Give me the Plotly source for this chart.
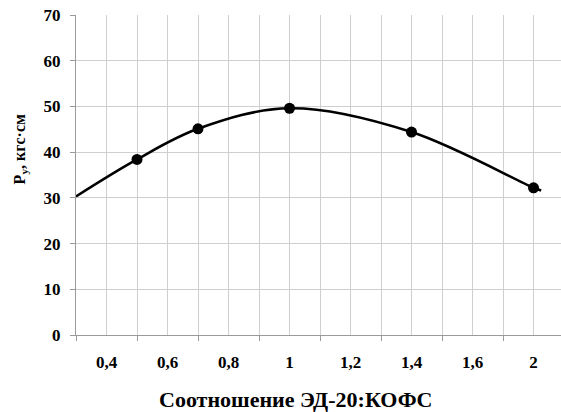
import plotly.graph_objects as go

# Data (x = ratio ЭД-20:КОФС, y = Pу, кгс·см)
ratio_labels = ["0,5", "0,7", "1", "1,4", "2"]
ratio_pos = [0.5, 0.7, 1.0, 1.4, 1.8]       # position on the evenly spaced axis
py_values = [38.4, 45.1, 49.6, 44.4, 32.2]

# smoothed curve (visible extent of the trend line)
curve_pos = [0.3, 0.5, 0.7, 1.0, 1.4, 1.8, 1.825]
curve_values = [30.3, 38.4, 45.1, 49.6, 44.4, 32.2, 31.6]

tick_pos = [0.4, 0.6, 0.8, 1.0, 1.2, 1.4, 1.6, 1.8]
tick_text = ["0,4", "0,6", "0,8", "1", "1,2", "1,4", "1,6", "2"]
minor_pos = [0.3, 0.5, 0.7, 0.9, 1.1, 1.3, 1.5, 1.7, 1.9]
y_ticks = [0, 10, 20, 30, 40, 50, 60, 70]

FONT = "Times New Roman, Liberation Serif, Tinos, DejaVu Serif, serif"
GRID = "#cfcfcf"
AXIS = "#9a9a9a"

fig = go.Figure()
fig.add_trace(go.Scatter(x=curve_pos, y=curve_values, mode="lines",
                         line=dict(color="black", width=2.6, shape="spline", smoothing=1.0),
                         hoverinfo="skip", showlegend=False))
fig.add_trace(go.Scatter(x=ratio_pos, y=py_values, mode="markers",
                         marker=dict(color="black", size=11),
                         text=ratio_labels, showlegend=False))

fig.update_layout(
    width=561, height=412,
    margin=dict(l=76, r=0, t=14.5, b=77.3),
    paper_bgcolor="white", plot_bgcolor="white",
    font=dict(family=FONT, color="black", size=16),
)
fig.update_xaxes(
    range=[0.3, 1.89],
    tickmode="array", tickvals=tick_pos, ticktext=tick_text,
    ticks="", showgrid=True, gridcolor=GRID, gridwidth=1.3,
    tickfont=dict(family=FONT, size=17, weight="bold", color="black"),
    ticklabelstandoff=11,
    showline=True, linecolor=AXIS, linewidth=1.3,
    zeroline=False,
    minor=dict(tickmode="array", tickvals=minor_pos,
               ticks="outside", ticklen=5, tickcolor=AXIS, tickwidth=1.2,
               showgrid=True, gridcolor=GRID, gridwidth=1.3),
)
fig.update_yaxes(
    range=[0, 70],
    tickmode="array", tickvals=y_ticks,
    ticks="outside", ticklen=5, tickcolor=AXIS, tickwidth=1.2,
    showgrid=True, gridcolor=GRID, gridwidth=1.3,
    tickfont=dict(family=FONT, size=17, weight="bold", color="black"),
    ticklabelstandoff=6,
    showline=True, linecolor=AXIS, linewidth=1.3,
    zeroline=False,
)
# axis titles, placed as in the reference
fig.add_annotation(
    text="P<sub>у</sub>, кгс·см", textangle=-90,
    xref="paper", yref="paper", x=0, y=0.58,
    xanchor="center", yanchor="middle", xshift=-56, showarrow=False,
    font=dict(family=FONT, size=16, weight="bold", color="black"),
)
fig.add_annotation(
    text="Соотношение ЭД-20:КОФС",
    xref="paper", yref="paper", x=0.4536, y=0,
    xanchor="center", yanchor="middle", yshift=-64.3, showarrow=False,
    font=dict(family=FONT, size=22, weight="bold", color="black"),
)

fig.write_html("out.html")
